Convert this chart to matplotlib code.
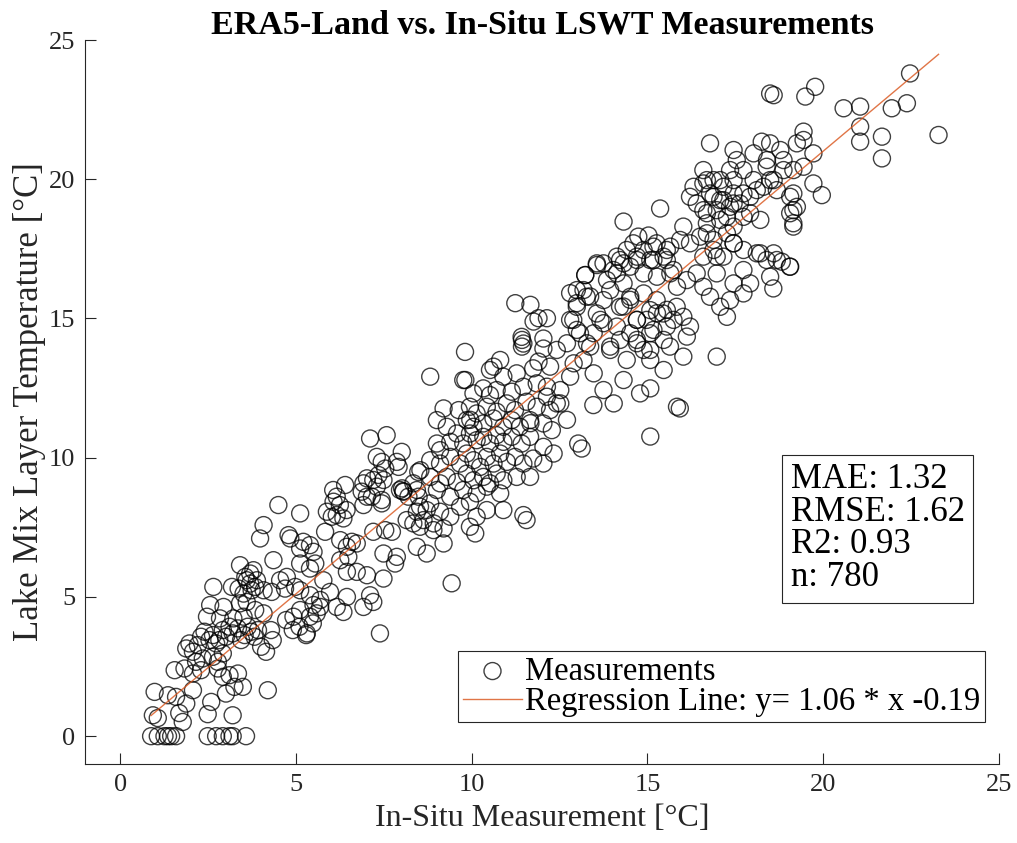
"""
ERA5-Land lake mix-layer temperature vs. in-situ LSWT measurements.
Scatter of matched pairs with linear regression line and error statistics.
"""
import matplotlib
matplotlib.use("Agg")
import matplotlib.pyplot as plt
import numpy as np

# ── Matched pairs (in-situ [°C], ERA5-Land [°C]), read off the figure by region ──
# low end, 0-4 °C
insitu_low = [0.88, 1.07, 1.26, 1.36, 1.45, 1.59, 2.49, 2.73, 2.92, 3.11, 3.20, 3.58,
              0.93, 1.07, 1.68, 1.78, 2.49, 3.20,
              0.98, 1.36, 1.59, 1.88, 2.07, 2.59, 3.01, 3.25, 3.49, 4.20,
              1.55, 1.83, 2.07, 2.30, 2.78, 2.92, 3.11, 3.35,
              1.88, 1.97, 2.07, 2.21, 2.30, 2.40, 2.54, 2.64, 2.73, 2.82,
              2.92, 3.01, 3.11, 3.20, 3.35, 3.44, 3.54, 3.63, 3.73, 3.82,
              3.92, 4.01, 4.15, 4.29, 4.34, 2.64, 2.78, 2.92, 2.16, 2.35,
              4.91, 5.10, 5.29, 5.48, 4.72]
era5_low = [0, 0, 0, 0, 0, 0, 0, 0, 0, 0, 0, 0,
            0.75, 0.65, 0.83, 0.51, 0.79, 0.75,
            1.59, 1.47, 1.41, 1.17, 1.65, 1.23, 1.53, 1.77, 1.77, 1.65,
            2.37, 2.43, 2.25, 2.37, 2.43, 2.13, 2.19, 2.25,
            3.15, 3.33, 3.03, 3.27, 3.57, 3.75, 3.45, 3.63, 3.33, 3.45,
            3.81, 3.57, 3.93, 3.69, 3.87, 3.45, 3.63, 3.93, 3.75, 3.57,
            3.81, 3.21, 3.03, 3.81, 3.45, 2.85, 2.67, 2.97, 2.67, 2.79,
            3.81, 3.93, 3.63, 4.05, 4.17]

# 2.5-9 °C
insitu_mid1 = [7.11, 7.58, 7.30, 7.44, 7.87, 8.01, 8.48, 7.02, 7.20, 7.35,
               6.40, 6.16, 6.07, 6.87, 7.02, 7.44, 7.96, 8.06, 8.20, 8.44,
               8.53, 8.72, 8.15, 8.34, 8.53,
               4.50, 5.12, 5.88, 6.02, 6.16, 6.35, 4.08, 3.98, 4.79, 4.84,
               5.21, 5.40, 5.83, 6.26, 6.45, 6.59, 6.73, 7.20, 7.54, 7.73, 8.44, 8.72,
               4.36, 3.41, 3.79, 4.55, 4.74, 5.12, 5.40, 5.55, 6.26, 6.49,
               6.45, 6.73, 7.02, 7.49, 7.87, 7.82,
               2.65, 3.18, 3.56, 3.70, 3.84, 4.08, 4.31, 4.69, 4.98, 5.12,
               5.40, 5.69, 5.78, 5.97, 6.45, 7.11, 7.20, 7.49,
               2.56, 2.94, 3.41, 3.60, 3.84, 4.08, 5.12, 5.50, 5.69, 6.16, 6.35, 6.92,
               2.47, 2.84, 3.22, 3.51, 4.93, 5.40, 5.59,
               3.60, 3.70, 3.74, 3.89, 3.51, 3.37, 5.12, 5.50, 8.02, 8.05]
era5_mid1 = [10.69, 10.81, 10.03, 9.85, 9.85, 10.21, 9.49, 9.26, 9.20, 9.38,
             9.02, 8.60, 8.42, 8.78, 8.60, 8.48, 8.84, 8.78, 8.60, 8.84,
             8.24, 8.12, 7.76, 7.64, 7.52,
             8.30, 8.00, 8.06, 7.88, 7.94, 7.82, 7.58, 7.10, 7.22, 7.10,
             6.98, 6.86, 7.34, 7.04, 6.80, 6.98, 6.92, 7.34, 7.40, 7.34, 6.80, 6.56,
             6.32, 6.14, 5.96, 5.60, 5.72, 6.20, 6.02, 6.20, 6.32, 6.44,
             5.90, 5.90, 5.78, 6.56, 6.44, 6.20,
             5.36, 5.36, 5.72, 5.48, 5.36, 5.24, 5.18, 5.30, 5.36, 5.24,
             5.06, 4.89, 5.60, 5.18, 5.00, 5.06, 4.82, 5.66,
             4.71, 4.64, 4.77, 4.82, 4.53, 4.41, 4.53, 4.71, 4.64, 4.64, 4.46, 4.64,
             4.29, 4.23, 4.23, 4.29, 4.29, 4.29, 4.41,
             5.60, 5.84, 5.24, 5.60, 5.12, 5.30, 6.74, 6.62, 8.90, 8.80]

# 6-12.5 °C (densest part)
insitu_mid2 = [9.81, 10.81, 8.82, 9.76, 11.47, 11.42, 12.04, 12.04, 11.28, 11.75,
               11.90, 12.23, 10.52, 10.90, 10.33, 10.05, 10.52, 10.71, 11.14, 11.47,
               11.85, 12.14,
               9.20, 9.63, 9.95, 10.14, 10.43, 10.71, 11.00, 11.23, 11.56, 11.85, 12.23, 12.42,
               9.01, 9.29, 9.86, 10.05, 10.33, 10.62, 10.90, 11.14, 11.37, 11.66, 12.04, 12.28,
               7.92, 7.54, 8.54, 9.01, 9.10, 9.39, 9.58, 9.76, 9.95, 10.14,
               10.33, 10.52, 10.71, 10.90, 11.14, 11.42, 11.66, 12.04, 12.33,
               8.82, 9.10, 9.39, 9.67, 9.86, 10.05, 10.24, 10.43, 10.62, 10.81,
               11.00, 11.23, 11.47, 11.75, 12.04,
               8.82, 9.10, 9.29, 9.58, 9.86, 10.05, 10.33, 10.52, 10.71, 10.90, 11.28, 11.66,
               9.01, 9.39, 9.76, 10.14, 10.43, 10.81, 10.90, 11.47, 11.56,
               6.06, 6.92, 7.30, 7.49, 7.16, 7.44, 8.34, 8.49, 8.44, 8.82,
               9.10, 9.39, 9.67, 9.95, 10.14, 10.43,
               6.25, 6.44, 6.92, 8.63, 8.92, 9.95]
era5_mid2 = [13.80, 13.51, 12.91, 12.79, 14.10, 14.34, 14.28, 13.92, 13.03, 13.21,
             13.45, 13.27, 13.15, 12.91, 12.49, 12.31, 12.25, 12.43, 12.37, 12.55,
             12.67, 12.55,
             11.77, 11.71, 11.83, 11.59, 11.83, 11.65, 11.95, 11.71, 12.01, 11.83, 11.71, 11.95,
             11.35, 11.11, 11.35, 11.11, 11.23, 11.41, 11.11, 11.35, 11.11, 11.35, 11.23, 10.99,
             9.67, 9.61, 9.55, 10.51, 10.27, 10.57, 10.87, 10.51, 10.87, 10.63,
             10.75, 10.51, 10.81, 10.57, 10.75, 10.51, 10.75, 10.39, 10.15,
             9.91, 9.79, 10.03, 9.79, 10.15, 9.91, 9.67, 10.03, 9.79, 10.15,
             9.85, 10.03, 9.79, 9.97, 9.79,
             9.31, 9.08, 9.31, 9.13, 9.43, 9.19, 9.31, 9.08, 9.43, 9.19, 9.31, 9.31,
             8.84, 8.60, 8.84, 8.72, 8.96, 8.72, 8.12, 7.94, 7.76,
             8.84, 9.08, 8.96, 9.20, 8.60, 8.36, 9.08, 8.60, 8.06, 8.36,
             8.06, 7.88, 8.24, 8.42, 7.88, 8.12,
             8.30, 8.12, 8.30, 7.76, 7.64, 7.52]

# 9.5-16 °C
insitu_mid3 = [11.24, 11.67, 11.90, 12.14, 11.76, 12.71, 12.42, 12.99, 12.80, 12.99,
               12.80, 13.18, 13.23, 13.56, 13.37, 13.66, 13.47, 13.28, 12.90, 12.80,
               13.18, 13.47, 13.75, 14.04, 14.32, 14.41, 13.94, 14.22, 14.70, 14.89,
               15.08, 15.46, 14.79, 15.08, 15.84,
               14.32, 14.51, 14.70, 14.98, 15.27, 15.55, 15.74, 15.08, 15.46,
               13.94, 13.85, 14.13, 14.32, 14.51, 14.89, 15.08, 15.27, 15.46, 15.65,
               15.84, 14.70, 14.22, 14.41, 15.17, 15.65,
               12.52, 12.52, 12.71, 15.08, 9.82, 10.62, 12.14, 11.67, 9.96, 11.43, 11.43]
era5_mid3 = [15.55, 15.49, 15.01, 15.01, 14.89, 14.11, 13.87, 14.59, 14.95, 15.55,
             15.91, 16.02, 16.56, 16.92, 15.79, 14.95, 14.47, 14.11, 13.39, 12.91,
             13.51, 13.03, 12.43, 11.95, 12.79, 13.51, 13.87, 14.23, 14.23, 13.87,
             13.51, 13.15, 12.31, 12.49, 11.83,
             15.43, 15.67, 14.95, 14.95, 15.19, 15.31, 14.95, 14.47, 14.23,
             16.02, 16.38, 16.62, 16.26, 16.86, 16.62, 17.10, 16.50, 17.22, 16.62,
             16.14, 17.10, 17.10, 17.46, 17.58, 17.58,
             12.43, 11.95, 11.36, 10.76, 12.79, 13.27, 12.19, 11.24, 11.36, 14.23, 13.99]

# 13-19 °C
insitu_high1 = [15.36, 14.32, 14.74, 15.03, 14.60, 14.89, 15.26, 15.55, 16.02, 15.93,
                16.21, 16.50, 16.69, 16.88, 17.26, 17.45, 17.73,
                16.31, 16.59, 16.88, 17.16, 17.45, 17.63, 17.35, 16.97, 16.59, 16.40,
                16.21, 16.78, 17.07, 17.26, 17.73, 17.92, 18.11, 18.49, 18.68, 19.06,
                19.15, 19.15, 17.35, 17.73, 18.39, 18.87, 16.59,
                18.11, 18.39, 18.68, 19.06, 18.49, 18.58, 17.73, 17.92, 17.45, 17.73,
                17.35, 17.26, 17.07, 16.78, 16.59, 16.97, 16.97, 16.59, 17.16, 16.40,
                16.12, 15.74, 15.55, 15.17, 14.70, 14.32, 14.13, 14.03, 13.75, 13.56,
                13.23, 12.99, 13.27, 13.75, 14.22, 14.51, 14.89, 15.26, 15.08, 15.45,
                15.83, 16.02, 16.21, 15.55, 15.17, 14.70, 14.51, 14.13, 13.75, 13.56,
                12.99, 12.89, 13.08, 13.37, 13.94, 14.70, 15.08, 15.64, 16.02, 16.97,
                16.12]
era5_high1 = [18.95, 18.48, 17.94, 17.98, 17.70, 17.46, 17.70, 17.46, 18.30, 17.82,
              17.70, 17.94, 18.42, 17.82, 18.06, 17.70, 17.46,
              19.73, 19.85, 19.97, 19.73, 19.49, 19.13, 19.01, 18.89, 18.89, 19.13,
              19.37, 19.49, 19.25, 18.65, 18.65, 19.37, 19.61, 19.97, 19.61, 19.37,
              18.89, 18.42, 20.33, 20.33, 20.45, 20.33, 20.33,
              17.34, 17.10, 17.10, 16.86, 16.50, 16.08, 16.74, 16.26, 16.26, 15.90,
              15.66, 15.06, 15.42, 15.78, 16.14, 16.62, 17.22, 17.22, 17.22, 16.62,
              16.38, 16.74, 17.10, 17.10, 17.22, 16.98, 17.22, 16.74, 16.98, 16.98,
              16.56, 16.02, 15.78, 15.66, 15.42, 15.78, 15.90, 15.66, 15.30, 15.18,
              15.42, 15.06, 14.71, 14.71, 14.59, 14.95, 14.47, 14.71, 14.83, 15.18,
              15.42, 14.95, 14.47, 13.99, 13.99, 14.11, 13.87, 13.99, 13.63, 13.63,
              14.35]

# 16.5-23.5 °C
insitu_high2 = [22.47, 18.49, 18.59, 19.77, 19.49, 20.58, 21.05, 21.95, 22.38, 21.05,
                21.05, 21.67, 21.67, 23.28,
                16.78, 17.45, 17.54, 18.02, 18.25, 18.49, 18.78, 19.44, 19.25, 19.44,
                19.72, 18.40, 18.87, 19.15, 19.44, 19.72, 19.96, 19.15, 19.25, 19.06,
                19.15, 18.02, 18.30, 18.59, 17.73, 17.45, 17.16, 16.88, 16.69, 17.07,
                17.45, 16.69, 17.07, 17.45, 17.92, 18.21, 16.69, 17.45, 18.21, 18.59,
                16.88]
era5_high2 = [23.80, 23.08, 23.02, 23.32, 22.97, 22.55, 22.61, 22.55, 22.73, 21.89,
              21.35, 21.53, 20.75, 21.59,
              21.29, 21.05, 20.69, 20.93, 21.35, 21.29, 21.05, 21.71, 21.29, 21.41,
              20.93, 20.69, 20.69, 20.33, 20.45, 19.85, 19.43, 19.49, 19.01, 18.78,
              18.30, 19.97, 19.73, 19.97, 19.49, 19.13, 19.25, 19.37, 19.97, 19.97,
              19.97, 18.78, 18.54, 18.30, 18.78, 18.54, 18.06, 17.70, 17.34, 17.34,
              17.46]

# isolated points below / above the main cloud
insitu_out = [5.31, 7.39, 9.20, 9.43, 10.10, 9.20, 8.91, 15.92, 13.03, 13.13, 13.46, 19.05, 18.82]
era5_out = [3.69, 3.69, 6.92, 5.49, 7.28, 7.46, 7.40, 11.77, 10.51, 10.33, 11.89, 16.86, 17.04]

# ── Regression / statistics (as printed on the figure) ─────────────────────────
SLOPE, INTERCEPT = 1.06, -0.19
STATS = {"MAE": 1.32, "RMSE": 1.62, "R2": 0.93, "n": 780}

insitu = np.concatenate([insitu_low, insitu_mid1, insitu_mid2, insitu_mid3,
                         insitu_high1, insitu_high2, insitu_out])
era5 = np.concatenate([era5_low, era5_mid1, era5_mid2, era5_mid3,
                       era5_high1, era5_high2, era5_out])

# ── Plot ───────────────────────────────────────────────────────────────────────
plt.rcParams["font.family"] = ["Liberation Serif", "DejaVu Serif"]
AX_COL = "#262626"

fig = plt.figure(figsize=(10.17, 8.43), dpi=100)
ax = fig.add_axes([0.0836, 0.0937, 0.8987, 0.8588])

sc = ax.scatter(insitu, era5, s=150, facecolors="none", edgecolors="black",
                linewidths=1.0, alpha=0.75, label="Measurements", zorder=2)

line_x = np.array([insitu.min(), insitu.max()])
ln, = ax.plot(line_x, SLOPE * line_x + INTERCEPT, color="#D95319", lw=1.0, alpha=0.8,
              label=f"Regression Line: y= {SLOPE:.2f} * x {INTERCEPT:.2f}", zorder=3)

ax.set_xlim(-1, 25)
ax.set_ylim(-1, 25)
ax.set_xticks([0, 5, 10, 15, 20, 25])
ax.set_yticks([0, 5, 10, 15, 20, 25])
for side in ("top", "right"):
    ax.spines[side].set_visible(False)
for side in ("left", "bottom"):
    ax.spines[side].set_color(AX_COL)
    ax.spines[side].set_linewidth(0.8)
ax.tick_params(direction="in", length=8, width=0.8, colors=AX_COL,
               labelsize=19, pad=7, labelcolor=AX_COL)

ax.set_xlabel("In-Situ Measurement [°C]", fontsize=23, color=AX_COL, labelpad=6)
ax.set_ylabel("Lake Mix Layer Temperature [°C]", fontsize=25, color=AX_COL, labelpad=2)
ax.set_title("ERA5-Land vs. In-Situ LSWT Measurements", fontsize=24.5,
             fontweight="bold", pad=5)

stats_txt = "\n".join(f"{k}: {v}" for k, v in STATS.items())
ax.text(0.772, 0.325, stats_txt, transform=ax.transAxes, fontsize=25,
        va="center", ha="left", linespacing=0.98,
        bbox=dict(boxstyle="square,pad=0.25", facecolor="white", edgecolor=AX_COL, lw=0.8))

leg = ax.legend(handles=[sc, ln], loc="lower right", bbox_to_anchor=(0.985, 0.058),
                fontsize=23.5, frameon=True, fancybox=False, framealpha=1,
                edgecolor=AX_COL, labelspacing=0.0, borderpad=0.15,
                handlelength=1.8, handletextpad=0.1, borderaxespad=0)
leg.get_frame().set_linewidth(0.8)

fig.savefig("out.png", dpi=100)
plt.close(fig)
